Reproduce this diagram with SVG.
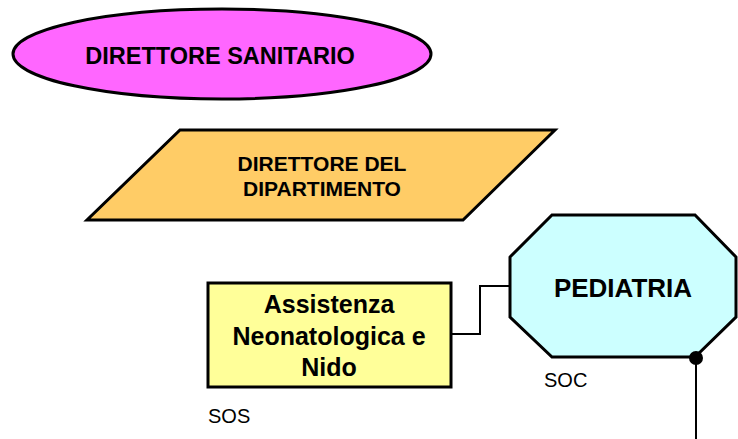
<svg xmlns="http://www.w3.org/2000/svg" width="738" height="439" viewBox="0 0 738 439">
<style>
.shape{stroke:#000;stroke-width:3;stroke-linejoin:miter}
.b{font-family:"Liberation Sans",Arial,sans-serif;font-weight:bold;fill:#000;text-anchor:middle}
.n{font-family:"Liberation Sans",Arial,sans-serif;fill:#000}
.conn{fill:none;stroke:#000;stroke-width:2}
</style>
<rect width="738" height="439" fill="#fff"/>
<g id="direttore-sanitario">
<ellipse class="shape" cx="222" cy="54" rx="209" ry="45" fill="#FF66FF"/>
<text class="b" x="220" y="64" font-size="23.5">DIRETTORE SANITARIO</text>
</g>
<g id="direttore-dipartimento">
<polygon class="shape" points="180,130 555,130 463,220 87,220" fill="#FFCC66"/>
<text class="b" x="322" y="171" font-size="21">DIRETTORE DEL</text>
<text class="b" x="322" y="196" font-size="21">DIPARTIMENTO</text>
</g>
<g id="pediatria">
<polygon class="shape" points="552,215 695,215 736,257 736,317 695,357 552,357 510,317 510,257" fill="#CCFFFF"/>
<text class="b" x="623" y="297" font-size="26">PEDIATRIA</text>
<text class="n" x="544" y="387" font-size="20">SOC</text>
</g>
<g id="assistenza-neonatologica">
<rect class="shape" x="208" y="283" width="243" height="104" fill="#FFFF99"/>
<text class="b" x="329" y="313" font-size="25">Assistenza</text>
<text class="b" x="329" y="345" font-size="25">Neonatologica e</text>
<text class="b" x="329" y="376" font-size="25">Nido</text>
<text class="n" x="208" y="423" font-size="20">SOS</text>
</g>
<g id="connectors">
<polyline class="conn" points="451,334 480,334 480,286 510,286"/>
<line class="conn" x1="696" y1="358" x2="696" y2="439"/>
<circle cx="696" cy="358" r="7" fill="#000"/>
</g>
</svg>
